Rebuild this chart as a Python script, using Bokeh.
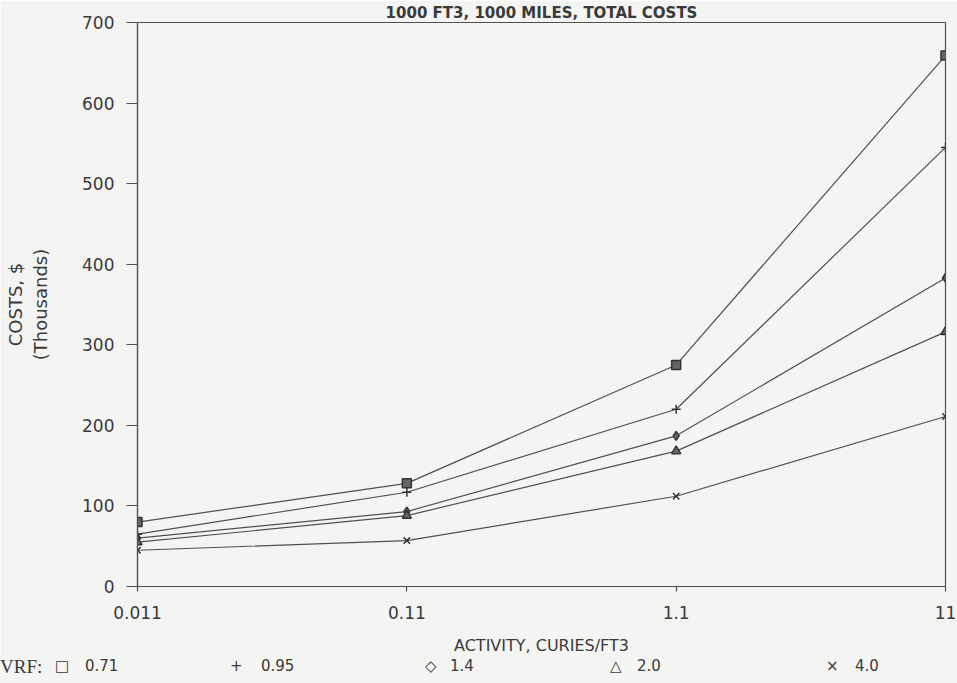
from bokeh.plotting import figure
from bokeh.layouts import column
from bokeh.models import FixedTicker, Range1d, CustomJSTickFormatter, Div
from bokeh.embed import file_html
from bokeh.resources import INLINE

# ---- data ----
activity = [0.011, 0.11, 1.1, 11]
x_tick_labels = ["0.011", "0.11", "1.1", "11"]
vrf_labels = ["0.71", "0.95", "1.4", "2.0", "4.0"]
cost_071 = [80, 128, 275, 659]
cost_095 = [65, 117, 220, 545]
cost_14 = [60, 93, 187, 383]
cost_20 = [55, 88, 168, 316]
cost_40 = [45, 57, 112, 211]
series = [cost_071, cost_095, cost_14, cost_20, cost_40]
markers = ["square", "cross", "diamond", "triangle", "x"]
legend_symbols = ["\u25a1", "+", "\u25c7", "\u25b3", "\u00d7"]

INK = "#505050"
TXT = "#3a3a3a"
BG = "#f4f4f2"
FONT = "DejaVu Sans"

p = figure(width=957, height=660, x_axis_type="log",
           x_range=Range1d(0.011, 11), y_range=Range1d(0, 700),
           output_backend="svg", toolbar_location=None,
           min_border_left=137, min_border_right=12,
           min_border_top=22, min_border_bottom=74)
p.background_fill_color = BG
p.border_fill_color = BG
p.outline_line_color = INK
p.outline_line_width = 1.2
p.xgrid.visible = False
p.ygrid.visible = False

p.title.text = "1000 FT3, 1000 MILES, TOTAL COSTS"
p.title.align = "center"
p.title.text_font = FONT
p.title.text_font_size = "15px"
p.title.text_font_style = "bold"
p.title.text_color = TXT
p.title.standoff = 1

for ys, m in zip(series, markers):
    p.line(activity, ys, line_color=INK, line_width=1.2)
    p.scatter(activity, ys, marker=m, size=9, line_color="#333333",
              fill_color="#666666", line_width=1.5)

# axes
p.xaxis.ticker = FixedTicker(ticks=activity)
p.xaxis.formatter = CustomJSTickFormatter(
    args=dict(lbls=x_tick_labels, tvals=activity),
    code="""
    let best = 0;
    for (let i = 0; i < tvals.length; i++) {
        if (Math.abs(Math.log10(tvals[i]) - Math.log10(tick)) <
            Math.abs(Math.log10(tvals[best]) - Math.log10(tick))) best = i;
    }
    return lbls[best];
    """)
p.yaxis.ticker = FixedTicker(ticks=[0, 100, 200, 300, 400, 500, 600, 700])

for ax in (p.xaxis[0], p.yaxis[0]):
    ax.axis_line_color = INK
    ax.axis_line_width = 1.2
    ax.major_tick_line_color = INK
    ax.major_tick_line_width = 1.2
    ax.minor_tick_line_color = None
    ax.major_tick_in = 0
    ax.major_label_text_font = FONT
    ax.major_label_text_font_size = "17px"
    ax.major_label_text_color = TXT
    ax.axis_label_text_font = FONT
    ax.axis_label_text_font_style = "normal"
    ax.axis_label_text_color = TXT

p.yaxis.major_tick_out = 11
p.yaxis.major_label_standoff = 12
p.xaxis.major_tick_out = 5
p.xaxis.major_label_standoff = 14

p.xaxis.axis_label = "ACTIVITY, CURIES/FT3"
p.xaxis.axis_label_text_font_size = "16px"
p.xaxis.axis_label_standoff = 14

p.yaxis.axis_label = "COSTS, $\n(Thousands)"
p.yaxis.axis_label_text_font_size = "18px"
p.yaxis.axis_label_standoff = 28

# ---- legend row (HTML strip under the chart) ----
key_x = [55, 230, 425, 610, 826]
key_label_x = [85, 261, 450, 637, 855]
spans = ['<span style="position:absolute;left:0px;top:-3px;'
         'font-family:\'Liberation Serif\';font-size:19px;">VRF:</span>']
for kx, lx, sym, lab in zip(key_x, key_label_x, legend_symbols, vrf_labels):
    spans.append('<span style="position:absolute;left:%dpx;top:-3px;'
                 'font-family:\'DejaVu Sans\';font-size:15px;">%s</span>' % (kx, sym))
    spans.append('<span style="position:absolute;left:%dpx;top:-3px;'
                 'font-family:\'DejaVu Sans\';font-size:15px;">%s</span>' % (lx, lab))
html = ('<div style="position:relative;width:957px;height:23px;margin:0;'
        'background:%s;color:%s;line-height:19px;">%s</div>' % (BG, TXT, "".join(spans)))
legend_row = Div(text=html, width=957, height=23,
                 styles={"background-color": BG, "margin": "0", "padding": "0"})

layout = column(p, legend_row, spacing=0)
open("out.html", "w").write(file_html(layout, INLINE))
